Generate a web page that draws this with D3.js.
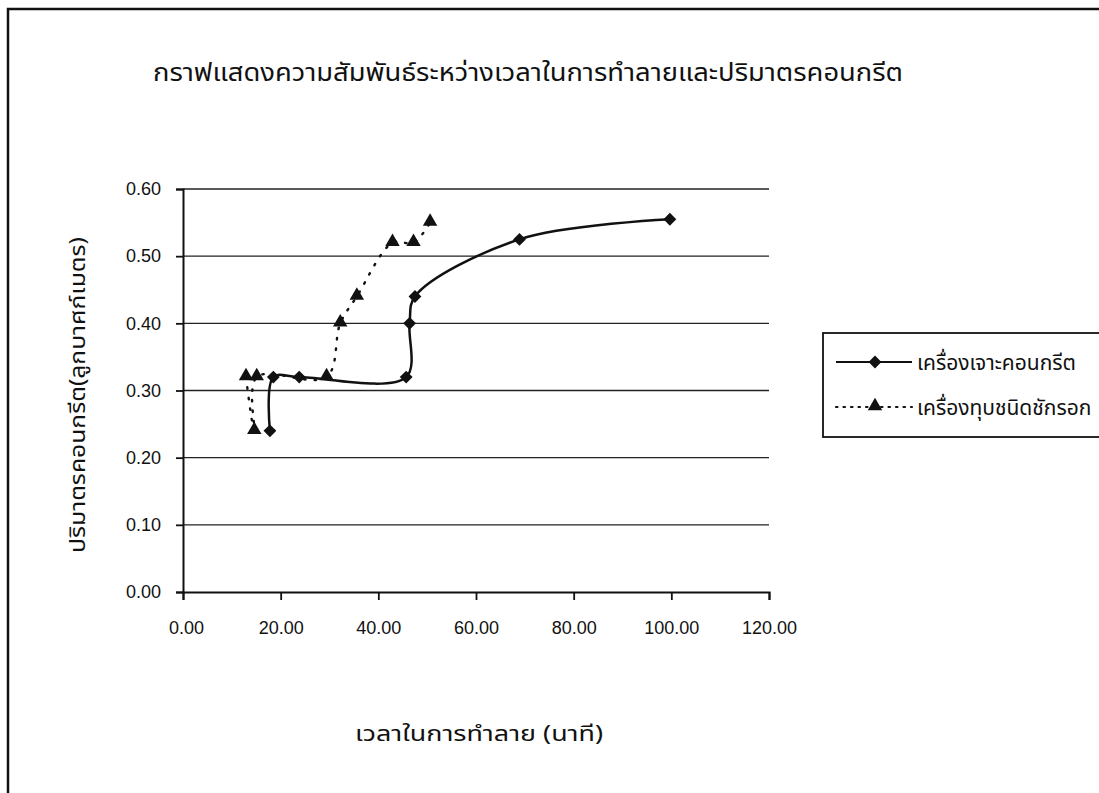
<!DOCTYPE html>
<html>
<head>
<meta charset="utf-8">
<script src="https://cdnjs.cloudflare.com/ajax/libs/d3/7.8.5/d3.min.js"></script>
<style>
  body { margin: 0; background: white; }
  text { font-family: "Liberation Sans", Arial, sans-serif; }
  .thai { font-family: "Noto Sans Thai", "Loma", "Garuda", "Tlwg Typo", "Noto Sans", sans-serif; }
</style>
</head>
<body>
<svg width="1099" height="793"></svg>
<script>
var drillTime = [17.8, 18.5, 23.8, 45.7, 46.4, 47.5, 68.9, 99.7];
var drillVolume = [0.24, 0.32, 0.32, 0.32, 0.40, 0.44, 0.525, 0.555];
var breakerTime = [12.9, 14.6, 15.1, 29.4, 32.2, 35.6, 42.9, 47.2, 50.6];
var breakerVolume = [0.32, 0.24, 0.32, 0.32, 0.40, 0.44, 0.52, 0.52, 0.55];
var xTicks = [0, 20, 40, 60, 80, 100, 120];
var yTicks = [0, 0.1, 0.2, 0.3, 0.4, 0.5, 0.6];
var seriesNames = ["เครื่องเจาะคอนกรีต", "เครื่องทุบชนิดชักรอก"];

var createChart = function() {
  var svg = d3.select("svg");
  var left = 183, right = 769, top = 189, bottom = 592;

  var x = d3.scaleLinear().domain([0, 120]).range([left, right]);
  var y = d3.scaleLinear().domain([0, 0.6]).range([bottom, top]);

  // outer chart frame (right and bottom run off the page)
  svg.append("rect")
    .attr("x", 8).attr("y", 9)
    .attr("width", 1200).attr("height", 1000)
    .attr("fill", "none").attr("stroke", "#111").attr("stroke-width", 2.5);

  // gridlines
  svg.append("g").selectAll("line")
    .data(yTicks.slice(1)).enter()
    .append("line")
    .attr("x1", left).attr("x2", right)
    .attr("y1", function(d){ return y(d); })
    .attr("y2", function(d){ return y(d); })
    .attr("stroke", "#222").attr("stroke-width", 1.4);

  var leftAxis = d3.axisLeft(y).tickValues(yTicks).tickFormat(d3.format(".2f"))
    .tickSizeOuter(0).tickSize(7).tickPadding(15);
  var bottomAxis = d3.axisBottom(x).tickValues(xTicks).tickFormat(d3.format(".2f"))
    .tickSizeOuter(0).tickSize(8).tickPadding(21);

  var ya = svg.append("g")
    .attr("transform", "translate(" + left + ",0)")
    .call(leftAxis);
  var xa = svg.append("g")
    .attr("transform", "translate(0," + bottom + ")")
    .call(bottomAxis);

  [ya, xa].forEach(function(a){
    a.attr("font-size", 18).attr("font-family", "'Liberation Sans', Arial, sans-serif");
    a.select(".domain").attr("stroke", "#111").attr("stroke-width", 2);
    a.selectAll(".tick line").attr("stroke", "#111").attr("stroke-width", 1.8);
    a.selectAll(".tick text").attr("fill", "#111");
  });
  xa.select(".tick text").attr("dx", 3);

  // series lines, Excel-like smoothing
  var line = d3.line()
    .x(function(d){ return x(d[0]); })
    .y(function(d){ return y(d[1]); })
    .curve(d3.curveCatmullRom.alpha(0.5));

  var drill = d3.zip(drillTime, drillVolume);
  var breaker = d3.zip(breakerTime, breakerVolume);

  svg.append("path")
    .datum(breaker)
    .attr("d", line)
    .attr("fill", "none")
    .attr("stroke", "#111")
    .attr("stroke-width", 2.4)
    .attr("stroke-dasharray", "1.5,9")
    .attr("stroke-linecap", "round");

  svg.append("path")
    .datum(drill)
    .attr("d", line)
    .attr("fill", "none")
    .attr("stroke", "#111")
    .attr("stroke-width", 2.5);

  var diamond = d3.symbol().type(d3.symbolDiamond2).size(105);
  var triangle = d3.symbol().type(d3.symbolTriangle).size(90);

  svg.append("g").selectAll("path")
    .data(breaker).enter()
    .append("path")
    .attr("d", triangle)
    .attr("transform", function(d){ return "translate(" + x(d[0]) + "," + (y(d[1]) - 1) + ")"; })
    .attr("fill", "#111");

  svg.append("g").selectAll("path")
    .data(drill).enter()
    .append("path")
    .attr("d", diamond)
    .attr("transform", function(d){ return "translate(" + x(d[0]) + "," + y(d[1]) + ")"; })
    .attr("fill", "#111");

  // title
  svg.append("text")
    .attr("class", "thai")
    .attr("x", 528).attr("y", 81)
    .attr("text-anchor", "middle")
    .attr("textLength", 750)
    .attr("lengthAdjust", "spacingAndGlyphs")
    .style("font-size", "25px")
    .attr("fill", "#111")
    .text("กราฟแสดงความสัมพันธ์ระหว่างเวลาในการทำลายและปริมาตรคอนกรีต");

  // axis titles
  svg.append("text")
    .attr("class", "thai")
    .attr("text-anchor", "middle")
    .attr("transform", "translate(85," + 395 + ")rotate(-90)")
    .attr("textLength", 316)
    .attr("lengthAdjust", "spacingAndGlyphs")
    .style("font-size", "22px")
    .attr("fill", "#111")
    .text("ปริมาตรคอนกรีต(ลูกบาศก์เมตร)");

  svg.append("text")
    .attr("class", "thai")
    .attr("text-anchor", "middle")
    .attr("x", 479).attr("y", 741)
    .attr("textLength", 248)
    .attr("lengthAdjust", "spacingAndGlyphs")
    .style("font-size", "22px")
    .attr("fill", "#111")
    .text("เวลาในการทำลาย (นาที)");

  // legend
  var legend = svg.append("g");
  legend.append("rect")
    .attr("x", 823).attr("y", 333)
    .attr("width", 300).attr("height", 104)
    .attr("fill", "white").attr("stroke", "#111").attr("stroke-width", 1.8);

  var rows = legend.selectAll(".row")
    .data(seriesNames).enter()
    .append("g")
    .attr("transform", function(d, i){ return "translate(0," + (362 + i * 45) + ")"; });

  rows.append("line")
    .attr("x1", 836).attr("x2", 912)
    .attr("y1", 0).attr("y2", 0)
    .attr("stroke", "#111")
    .attr("stroke-width", 2.2)
    .attr("stroke-dasharray", function(d, i){ return i == 0 ? null : "1.5,6"; })
    .attr("stroke-linecap", function(d, i){ return i == 0 ? "butt" : "round"; });

  rows.append("path")
    .attr("d", function(d, i){ return i == 0 ? diamond() : triangle(); })
    .attr("transform", function(d, i){ return "translate(875," + (i == 0 ? 0 : -1) + ")"; })
    .attr("fill", "#111");

  rows.append("text")
    .attr("class", "thai")
    .attr("x", 917).attr("y", 8)
    .style("font-size", "21px")
    .attr("fill", "#111")
    .text(function(d){ return d; });
};

createChart();
</script>
</body>
</html>
